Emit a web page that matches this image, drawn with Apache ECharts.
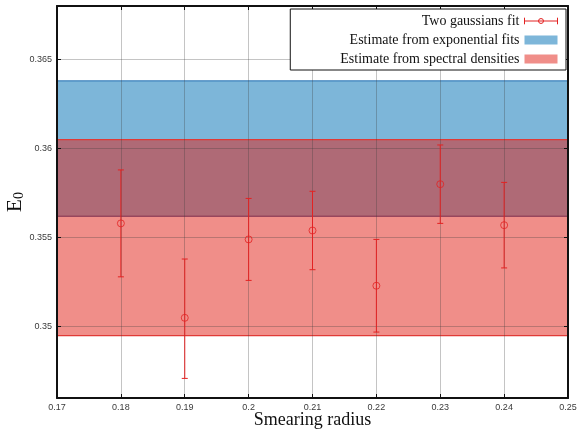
<!DOCTYPE html>
<html><head><meta charset="utf-8">
<script src="https://cdn.jsdelivr.net/npm/echarts@6/dist/echarts.min.js"></script>
<style>html,body{margin:0;padding:0;background:#fff}#c{width:581px;height:430px}</style>
</head><body><div id="c"></div>
<script>
const radii  = [0.18, 0.19, 0.20, 0.21, 0.22, 0.23, 0.24];
const e0     = [0.3558, 0.3505, 0.3549, 0.3554, 0.3523, 0.3580, 0.3557];
const e0Low  = [0.3528, 0.3471, 0.3526, 0.3532, 0.3497, 0.3558, 0.3533];
const e0High = [0.3588, 0.3538, 0.3572, 0.3576, 0.3549, 0.3602, 0.3581];
const expBand  = [0.3562, 0.3638];
const specBand = [0.3495, 0.3605];
const xTicks = [0.17, 0.18, 0.19, 0.20, 0.21, 0.22, 0.23, 0.24, 0.25];
const yTicks = [0.35, 0.355, 0.36, 0.365];
const xRange = [0.17, 0.25];
const yRange = [0.346, 0.368];

const RED = '#e32222';
const serif = '"Liberation Serif", "DejaVu Serif", serif';

function bandRender(params, api) {
  const cs = params.coordSys;
  const yLo = api.coord([api.value(0), api.value(1)])[1];
  const yHi = api.coord([api.value(0), api.value(2)])[1];
  const st = api.style();
  const edge = params.seriesIndex === 0 ? '#3f82bd' : '#e03a36';
  const edgeLo = params.seriesIndex === 0 ? '#4f6fa6' : '#e03a36';
  return {
    type: 'group',
    children: [
      { type: 'rect', shape: { x: cs.x, y: yHi, width: cs.width, height: yLo - yHi },
        style: { fill: st.fill } },
      { type: 'line', shape: { x1: cs.x, y1: yHi, x2: cs.x + cs.width, y2: yHi },
        style: { stroke: edge, lineWidth: 1.3 } },
      { type: 'line', shape: { x1: cs.x, y1: yLo, x2: cs.x + cs.width, y2: yLo },
        style: { stroke: edgeLo, lineWidth: 1.3 } }
    ]
  };
}

function errRender(params, api) {
  const lo = api.coord([api.value(0), api.value(1)]);
  const hi = api.coord([api.value(0), api.value(2)]);
  const w = 3;
  const s = { stroke: RED, lineWidth: 1 };
  return {
    type: 'group',
    children: [
      { type: 'line', shape: { x1: lo[0], y1: lo[1], x2: hi[0], y2: hi[1] }, style: s },
      { type: 'line', shape: { x1: lo[0] - w, y1: lo[1], x2: lo[0] + w, y2: lo[1] }, style: s },
      { type: 'line', shape: { x1: hi[0] - w, y1: hi[1], x2: hi[0] + w, y2: hi[1] }, style: s }
    ]
  };
}

const tickLabel = { color: '#3a3a3a', fontSize: 9, fontFamily: '"Liberation Sans", Arial, sans-serif' };
const grid = { type: 'solid', color: 'rgba(60,60,60,0.3)', width: 1 };

const chart = echarts.init(document.getElementById('c'), null, { renderer: 'canvas' });
chart.setOption({
  animation: false,
  backgroundColor: '#fff',
  grid: { left: 57, right: 13, top: 6, bottom: 32, containLabel: false, outerBoundsMode: 'none' },
  legend: {
    orient: 'vertical', right: 15, top: 9, align: 'right',
    backgroundColor: '#fff', borderColor: '#111', borderWidth: 1,
    padding: [5, 6, 4, 50], itemGap: 5, itemWidth: 33, itemHeight: 9, z: 20,
    textStyle: { fontFamily: serif, fontSize: 14, color: '#111' },
    data: [
      { name: 'Two gaussians fit',
        icon: 'path://M0,5 L40,5 M0,1 L0,9 M40,1 L40,9 M20,2 A3,3 0 1 1 20,8 A3,3 0 1 1 20,2',
        itemStyle: { color: 'none', borderColor: RED, borderWidth: 1 } },
      { name: 'Estimate from exponential fits', icon: 'rect' },
      { name: 'Estimate from spectral densities', icon: 'rect' }
    ]
  },
  xAxis: [{
    type: 'value', min: xRange[0], max: xRange[1], interval: 0.01,
    name: 'Smearing radius', nameLocation: 'middle', nameGap: 13, nameMoveOverlap: false,
    nameTextStyle: { fontFamily: serif, fontSize: 18, color: '#111', verticalAlign: 'top' },
    axisLine: { show: true, onZero: false, lineStyle: { color: '#111', width: 2 } },
    axisTick: { show: true, inside: true, length: 4, lineStyle: { color: '#111' }, customValues: xTicks },
    axisLabel: Object.assign({ margin: 5, customValues: xTicks }, tickLabel),
    splitLine: { show: true, lineStyle: grid },
    z: 3
  }, {
    type: 'value', position: 'top', min: xRange[0], max: xRange[1], interval: 0.01,
    axisLine: { show: true, onZero: false, lineStyle: { color: '#111', width: 2 } },
    axisTick: { show: true, inside: true, length: 4, lineStyle: { color: '#111' }, customValues: xTicks },
    axisLabel: { show: false }, splitLine: { show: false }, z: 3
  }],
  yAxis: [{
    type: 'value', min: yRange[0], max: yRange[1],
    name: 'E{sub|0}', nameLocation: 'middle', nameGap: 31, nameRotate: 90, nameMoveOverlap: false,
    nameTextStyle: { fontFamily: serif, fontSize: 21, color: '#111',
      rich: { sub: { fontFamily: serif, fontSize: 14, verticalAlign: 'bottom', padding: [8, 0, 0, 0] } } },
    axisLine: { show: true, onZero: false, lineStyle: { color: '#111', width: 2 } },
    axisTick: { show: true, inside: true, length: 4, lineStyle: { color: '#111' }, customValues: yTicks },
    axisLabel: Object.assign({ margin: 5, customValues: yTicks, formatter: v => String(+v.toFixed(4)) }, tickLabel),
    splitLine: { show: true, lineStyle: grid },
    z: 3
  }, {
    type: 'value', position: 'right', min: yRange[0], max: yRange[1],
    axisLine: { show: true, onZero: false, lineStyle: { color: '#111', width: 2 } },
    axisTick: { show: true, inside: true, length: 4, lineStyle: { color: '#111' }, customValues: yTicks },
    axisLabel: { show: false }, splitLine: { show: false }, z: 3
  }],
  series: [
    { name: 'Estimate from exponential fits', type: 'custom', renderItem: bandRender, z: 1,
      itemStyle: { color: '#7db6d9' }, encode: { x: 0, y: [1, 2] },
      data: [[0.21, expBand[0], expBand[1]]] },
    { name: 'Estimate from spectral densities', type: 'custom', renderItem: bandRender, z: 1,
      itemStyle: { color: 'rgba(225,29,19,0.5)' }, encode: { x: 0, y: [1, 2] },
      data: [[0.21, specBand[0], specBand[1]]] },
    { name: 'Two gaussians fit', type: 'custom', renderItem: errRender, z: 5,
      itemStyle: { color: RED }, encode: { x: 0, y: [1, 2] },
      data: radii.map((r, i) => [r, e0Low[i], e0High[i]]) },
    { name: 'Two gaussians fit', type: 'scatter', z: 6, symbol: 'circle', symbolSize: 7,
      itemStyle: { color: 'rgba(0,0,0,0)', borderColor: RED, borderWidth: 1 },
      data: radii.map((r, i) => [r, e0[i]]) }
  ]
});
</script>
</body></html>
